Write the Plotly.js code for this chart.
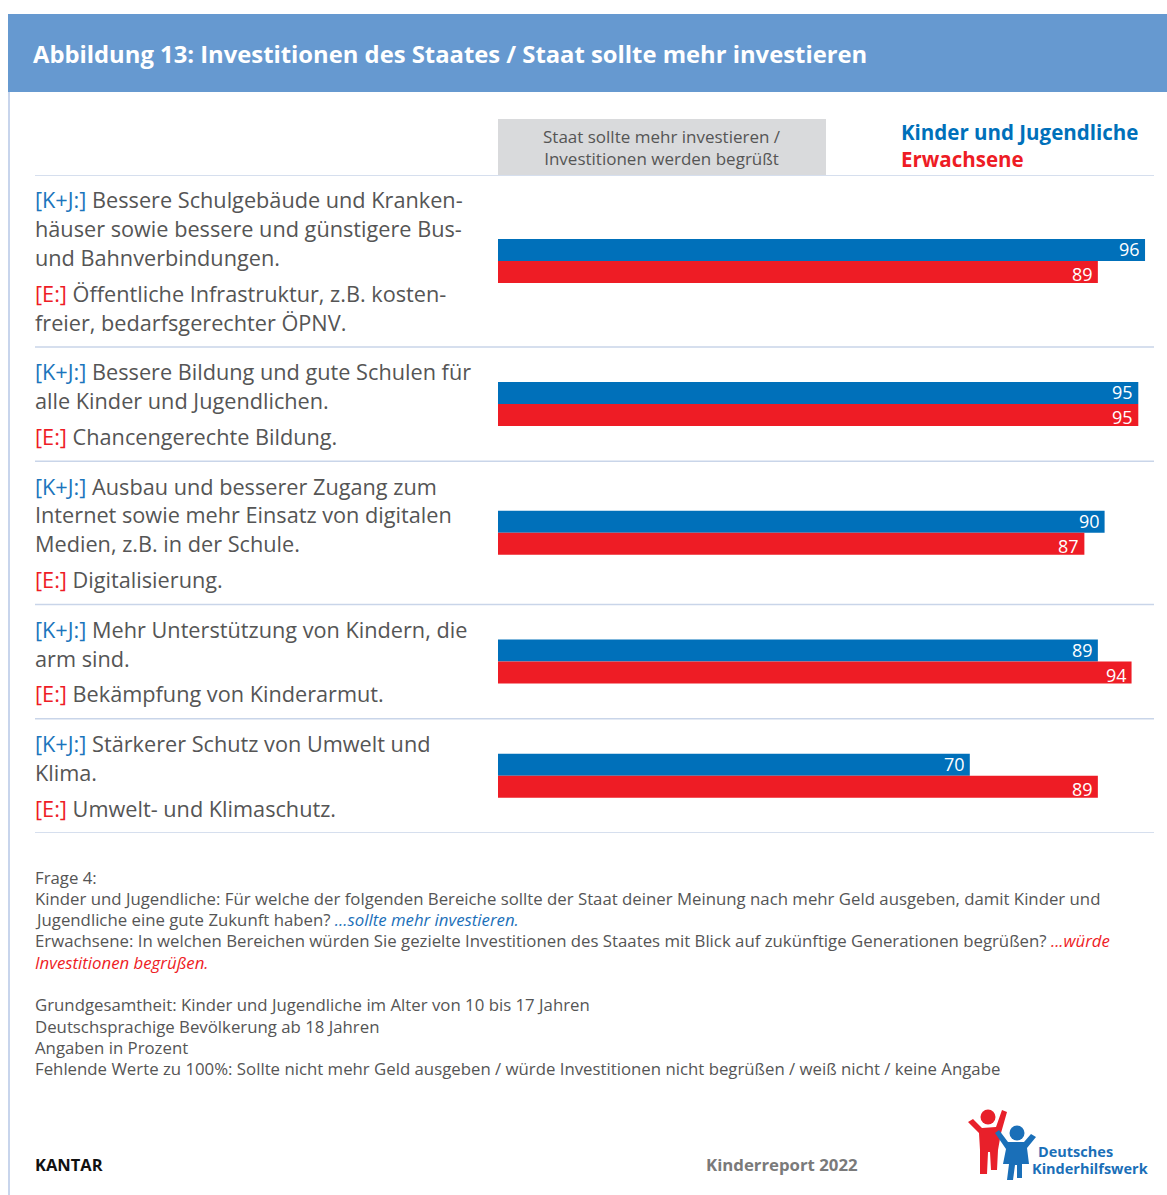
<!DOCTYPE html>
<html>
<head>
<meta charset="utf-8">
<script src="https://cdn.plot.ly/plotly-3.0.1.min.js"></script>
<style>html,body{margin:0;padding:0;background:#fff;}#chart{width:1167px;height:1195px;}</style>
</head>
<body>
<div id="chart"></div>
<script>
// ---------- DATA ----------
const categories = ['Infrastruktur', 'Bildung', 'Digitalisierung', 'Kinderarmut', 'Umwelt'];
const kinderJugendliche = [96, 95, 90, 89, 70];
const erwachsene = [89, 95, 87, 94, 89];
const kjText = [
  ['Bessere Schulgebäude und Kranken-', 'häuser sowie bessere und günstigere Bus-', 'und Bahnverbindungen.'],
  ['Bessere Bildung und gute Schulen für', 'alle Kinder und Jugendlichen.'],
  ['Ausbau und besserer Zugang zum', 'Internet sowie mehr Einsatz von digitalen', 'Medien, z.B. in der Schule.'],
  ['Mehr Unterstützung von Kindern, die', 'arm sind.'],
  ['Stärkerer Schutz von Umwelt und', 'Klima.']
];
const eText = [
  ['Öffentliche Infrastruktur, z.B. kosten-', 'freier, bedarfsgerechter ÖPNV.'],
  ['Chancengerechte Bildung.'],
  ['Digitalisierung.'],
  ['Bekämpfung von Kinderarmut.'],
  ['Umwelt- und Klimaschutz.']
];
const seriesNames = ['Kinder und Jugendliche', 'Erwachsene'];
const titleText = 'Abbildung 13: Investitionen des Staates / Staat sollte mehr investieren';
const headerText = ['Staat sollte mehr investieren /', 'Investitionen werden begrüßt'];
const footerLines = [
  'Frage 4:',
  'Kinder und Jugendliche: Für welche der folgenden Bereiche sollte der Staat deiner Meinung nach mehr Geld ausgeben, damit Kinder und',
  'Jugendliche eine gute Zukunft haben? <span style="color:#1b6fb9"><i>...sollte mehr investieren.</i></span>',
  'Erwachsene: In welchen Bereichen würden Sie gezielte Investitionen des Staates mit Blick auf zukünftige Generationen begrüßen? <span style="color:#ee1c25"><i>...würde</i></span>',
  '<span style="color:#ee1c25"><i>Investitionen begrüßen.</i></span>',
  '',
  'Grundgesamtheit: Kinder und Jugendliche im Alter von 10 bis 17 Jahren',
  'Deutschsprachige Bevölkerung ab 18 Jahren',
  'Angaben in Prozent',
  'Fehlende Werte zu 100%: Sollte nicht mehr Geld ausgeben / würde Investitionen nicht begrüßen / weiß nicht / keine Angabe'
];

// ---------- STYLE / LAYOUT CONSTANTS ----------
const W = 1167, H = 1195;
const FONT = '"Open Sans", "Noto Sans", sans-serif';
const BLUE = '#0070ba', RED = '#ee1c25', GREY = '#555555';
const PAD_TOP = 25, LINE = 29, GAP = 36, PAD_BOT = 25;
const PLOT_TOP = 175, PLOT_BOT = 833, PLOT_L = 498, PLOT_R = 1154, PX_PER_UNIT = 6.74;

// section geometry derived from the number of text lines
const tops = [], centers = [];
let acc = 0;
for (let i = 0; i < categories.length; i++) {
  const h = PAD_TOP + (kjText[i].length - 1) * LINE + GAP + (eText[i].length - 1) * LINE + PAD_BOT;
  tops.push(acc); centers.push(acc + h / 2); acc += h;
}
const total = acc;
const pxPerY = (PLOT_BOT - PLOT_TOP) / total;
const barW = 22 / pxPerY;

const px = x => x / W, py = y => 1 - y / H;

const traces = [
  { type: 'bar', orientation: 'h', name: seriesNames[0], x: kinderJugendliche, y: centers,
    width: barW, offset: -barW, marker: { color: BLUE }, hoverinfo: 'x' },
  { type: 'bar', orientation: 'h', name: seriesNames[1], x: erwachsene, y: centers,
    width: barW, offset: 0, marker: { color: RED }, hoverinfo: 'x' }
];

const annotations = [];
// value labels inside bar ends
[kinderJugendliche, erwachsene].forEach((vals, s) => {
  vals.forEach((v, i) => {
    annotations.push({ xref: 'x', yref: 'y', x: v, y: centers[i] + (s === 0 ? -barW / 2 : barW / 2),
      text: String(v), showarrow: false, xanchor: 'right', yanchor: 'middle', xshift: -4,
      yshift: s === 0 ? 1 : -2, height: 20, borderpad: 0,
      font: { family: FONT, size: 18, color: '#ffffff' } });
  });
});
function pAnn(x, y, text, size, color, extra) {
  annotations.push(Object.assign({ xref: 'paper', yref: 'paper', x: px(x), y: py(y), text: text,
    showarrow: false, xanchor: 'left', yanchor: 'middle', align: 'left',
    font: { family: FONT, size: size, color: color } }, extra || {}));
}
// row labels
for (let i = 0; i < categories.length; i++) {
  kjText[i].forEach((t, j) => {
    const txt = (j === 0 ? '<span style="color:#1b75bc">[K+J:]</span> ' : '') + t;
    annotations.push({ xref: 'paper', yref: 'y', x: px(33), y: tops[i] + PAD_TOP + j * LINE, text: txt,
      showarrow: false, xanchor: 'left', yanchor: 'middle', font: { family: FONT, size: 21.7, color: GREY } });
  });
  const eStart = tops[i] + PAD_TOP + (kjText[i].length - 1) * LINE + GAP;
  eText[i].forEach((t, j) => {
    const txt = (j === 0 ? '<span style="color:' + RED + '">[E:]</span> ' : '') + t;
    annotations.push({ xref: 'paper', yref: 'y', x: px(33), y: eStart + j * LINE, text: txt,
      showarrow: false, xanchor: 'left', yanchor: 'middle', font: { family: FONT, size: 21.7, color: GREY } });
  });
}
// column header
pAnn(662, 148, headerText.join('<br>'), 17, GREY, { xanchor: 'center', align: 'center' });
// legend text
pAnn(899, 145.5, '<b><span style="color:' + BLUE + '">' + seriesNames[0] + '</span><br><span style="color:' + RED + '">' + seriesNames[1] + '</span></b>', 20.5, BLUE);
// footer
footerLines.forEach((t, i) => { if (t) pAnn(33, 877 + i * 21.3, t, 16.8, GREY); });
pAnn(33, 1164, '<b>KANTAR</b>', 16.5, '#111111');
pAnn(704, 1164, '<b>Kinderreport 2022</b>', 16.8, '#7a7a7a');
pAnn(1036, 1151, '<b>Deutsches</b>', 14.5, '#1a6fb8');
pAnn(1030, 1168, '<b>Kinderhilfswerk</b>', 14.5, '#1a6fb8');

const shapes = [];
// header band
shapes.push({ type: 'rect', xref: 'paper', yref: 'paper', x0: px(8), x1: px(1167), y0: py(92), y1: py(14),
  fillcolor: '#6699d0', line: { width: 0 }, layer: 'below' });
// left border
shapes.push({ type: 'line', xref: 'paper', yref: 'paper', x0: px(9), x1: px(9), y0: py(92), y1: 0,
  line: { color: '#c8d5ec', width: 2 } });
// grey column header box
shapes.push({ type: 'rect', xref: 'paper', yref: 'paper', x0: px(498), x1: px(826), y0: py(175), y1: py(119),
  fillcolor: '#d9dadc', line: { width: 0 }, layer: 'below' });
// separators
tops.concat([total]).forEach(v => shapes.push({ type: 'line', xref: 'paper', yref: 'y', x0: px(35), x1: px(1154),
  y0: v, y1: v, line: { color: '#c9d5e9', width: 1.5 } }));

// logo figures
function path(pts) { return 'M' + pts.map(p => px(p[0]) + ',' + py(p[1])).join(' L') + ' Z'; }
function circ(cx, cy, r, col) { shapes.push({ type: 'circle', xref: 'paper', yref: 'paper',
  x0: px(cx - r), x1: px(cx + r), y0: py(cy + r), y1: py(cy - r), fillcolor: col, line: { width: 0 } }); }
function poly(pts, col) { shapes.push({ type: 'path', xref: 'paper', yref: 'paper', path: path(pts), fillcolor: col, line: { width: 0 } }); }
const LR = '#e8202a', LB = '#1a6fb8';
circ(988, 1117, 7.5, LR);
poly([[968,1122],[973,1119],[982,1128],[996,1127],[1002,1110],[1007,1112],[1001,1133],[998,1150],[997,1170],[991,1170],[990,1152],[988,1152],[987,1174],[980,1174],[980,1150],[979,1133]], LR);
circ(1017, 1133, 7.5, LB);
poly([[995,1133],[999,1130],[1008,1142],[1024,1142],[1031,1134],[1036,1137],[1027,1148],[1029,1164],[1022,1164],[1022,1178],[1017,1178],[1017,1165],[1015,1165],[1013,1180],[1007,1180],[1009,1164],[1003,1164],[1006,1149]], LB);

const layout = {
  width: W, height: H,
  margin: { l: 0, r: 0, t: 0, b: 0 },
  paper_bgcolor: '#ffffff', plot_bgcolor: 'rgba(0,0,0,0)',
  showlegend: false,
  barmode: 'overlay',
  title: { text: '<b>' + titleText + '</b>', x: px(33), xanchor: 'left', xref: 'paper',
    y: py(55), yanchor: 'middle', yref: 'container', font: { family: FONT, size: 23.8, color: '#ffffff' } },
  xaxis: { domain: [px(PLOT_L), px(PLOT_R)], range: [0, (PLOT_R - PLOT_L) / PX_PER_UNIT],
    showgrid: false, zeroline: false, showticklabels: false, showline: false, fixedrange: true },
  yaxis: { domain: [py(PLOT_BOT), py(PLOT_TOP)], range: [total, 0],
    showgrid: false, zeroline: false, showticklabels: false, showline: false, fixedrange: true },
  annotations: annotations,
  shapes: shapes
};

Plotly.newPlot('chart', traces, layout, { displayModeBar: false, staticPlot: true });
</script>
</body>
</html>
